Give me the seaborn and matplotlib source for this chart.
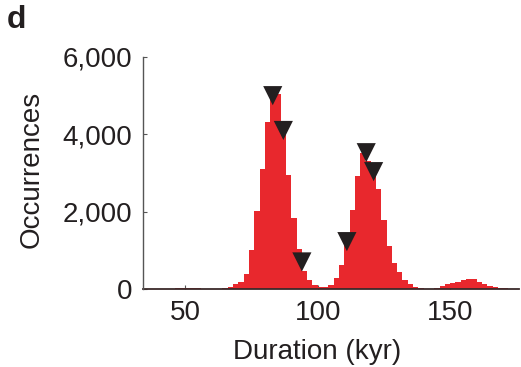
import numpy as np
import pandas as pd
import matplotlib
matplotlib.use("Agg")
import matplotlib.pyplot as plt
import seaborn as sns

# ---- data ----
bin_width = 2
bin_edges_start = 34
bin_edges_stop = 176
# counts per 2-kyr bin, bins starting at 34, 36, ..., 174
bin_counts = [
    0, 0, 0, 0, 0,            # 34-44
    10, 20, 25, 30, 25,        # 44-54
    20, 10, 5, 5, 5,           # 54-64
    15, 60, 120, 190, 400,     # 64-74
    1010, 2020, 3100, 4330, 5035,  # 74-84
    5035, 4290, 2950, 1830, 1030,  # 84-94
    470, 230, 100, 60, 50,     # 94-104
    100, 290, 610, 1300, 2040,  # 104-114
    2910, 3520, 3300, 3050, 2580,  # 114-124
    1790, 1120, 680, 450, 230,  # 124-134
    130, 60, 20, 8, 10,        # 134-144
    30, 80, 130, 165, 190,     # 144-154
    230, 250, 250, 190, 130,   # 154-164
    65, 50, 30, 20, 10,        # 164-174
    5,                         # 174-176
]
marker_duration = [83.0, 87.0, 94.0, 111.0, 118.3, 121.1]
marker_occurrences = [5000, 4100, 700, 1225, 3525, 3035]

x_ticks = [50, 100, 150]
x_tick_labels = ["50", "100", "150"]
y_ticks = [0, 2000, 4000, 6000]
y_tick_labels = ["0", "2,000", "4,000", "6,000"]
x_label = "Duration (kyr)"
y_label = "Occurrences"
panel_label = "d"

# ---- build table ----
edges = np.arange(bin_edges_start, bin_edges_stop + bin_width, bin_width)
centers = edges[:-1] + bin_width / 2
df = pd.DataFrame({"duration": centers, "count": bin_counts})
mk = pd.DataFrame({"duration": marker_duration, "occ": marker_occurrences})

sns.set_style("ticks")
plt.rcParams["font.family"] = ["Liberation Sans", "DejaVu Sans"]
text_color = "#231F20"
plt.rcParams["text.color"] = text_color
plt.rcParams["axes.labelcolor"] = text_color
plt.rcParams["xtick.color"] = "#555555"
plt.rcParams["ytick.color"] = "#555555"
plt.rcParams["xtick.labelcolor"] = text_color
plt.rcParams["ytick.labelcolor"] = text_color

fig = plt.figure(figsize=(5.21, 3.67), dpi=100)
ax = fig.add_axes([143 / 521, 78 / 367, 376 / 521, 232 / 367])

sns.histplot(data=df, x="duration", weights="count", binwidth=bin_width,
             binrange=(bin_edges_start, bin_edges_stop),
             color="#E8282D", alpha=1, linewidth=0, edgecolor="none",
             ax=ax, zorder=1)
sns.scatterplot(data=mk, x="duration", y="occ", marker="v", s=190,
                color=text_color, edgecolor="none", linewidth=0,
                ax=ax, zorder=3, clip_on=False)

ax.set_xlim(34, 176)
ax.set_ylim(0, 6000)
ax.set_xticks(x_ticks)
ax.set_xticklabels(x_tick_labels)
ax.set_yticks(y_ticks)
ax.set_yticklabels(y_tick_labels)
ax.tick_params(axis="both", direction="in", length=3, width=0.8,
               labelsize=20, pad=8)

for s in ["top", "right"]:
    ax.spines[s].set_visible(False)
ax.spines["left"].set_color("#555555")
ax.spines["left"].set_linewidth(1.0)
ax.spines["bottom"].set_color("#3a2a2a")
ax.spines["bottom"].set_linewidth(1.3)
ax.spines["bottom"].set_zorder(2)

ax.set_xlabel(x_label, fontsize=20)
ax.set_ylabel(y_label, fontsize=20)
ax.xaxis.set_label_coords(0.463, -0.215)
ax.yaxis.set_label_coords(-0.262, 0.517)

fig.text(7 / 521, 1 - 5 / 367, panel_label, fontsize=23, fontweight="bold",
         ha="left", va="top", color=text_color)

fig.savefig("out.png", dpi=100)
